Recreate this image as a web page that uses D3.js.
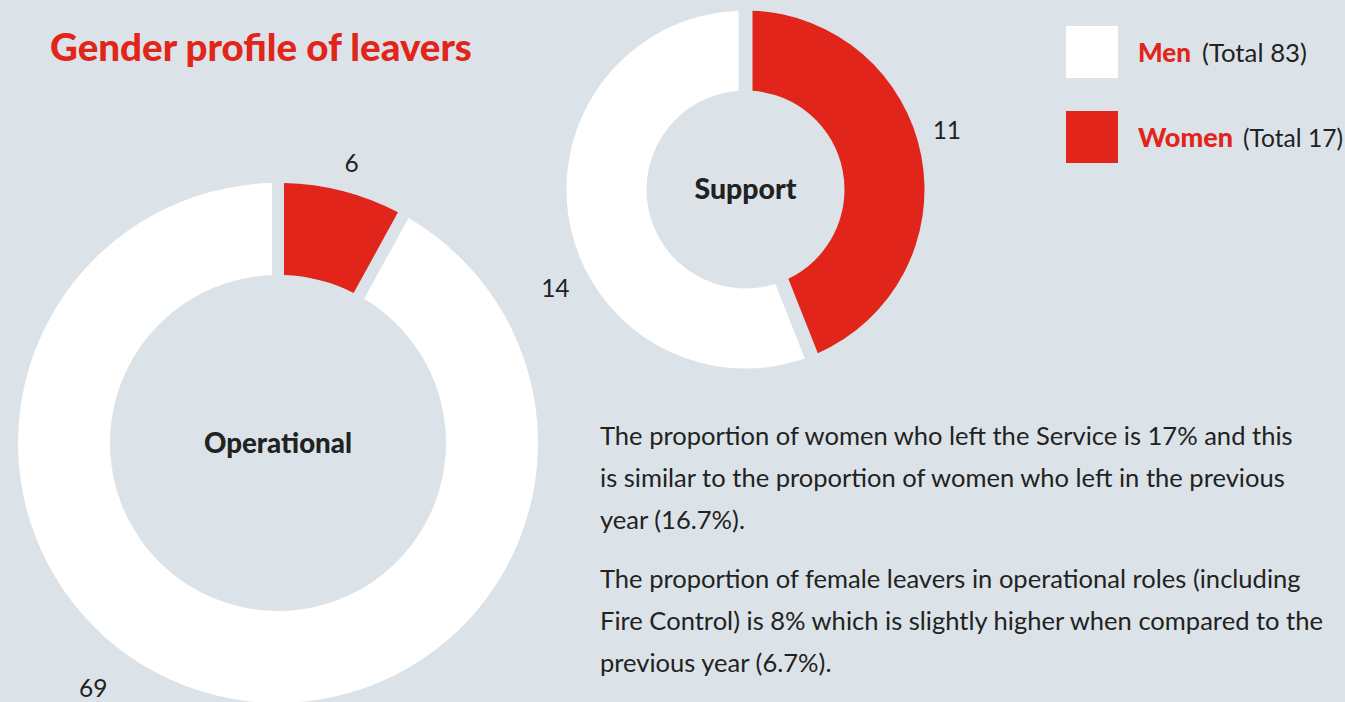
<!DOCTYPE html>
<html><head><meta charset="utf-8">
<script src="https://cdn.jsdelivr.net/npm/d3@7"></script>
<style>
html,body{margin:0;padding:0;background:#dce3e8;}
svg{display:block;}
text{font-family:Lato,"Open Sans",sans-serif;}
</style></head>
<body>
<svg id="chart" width="1345" height="702"></svg>
<script>
// ---- data ----
const genders = ["Women", "Men"];
const operationalValues = [6, 69];
const supportValues = [11, 14];
const legendLabels = ["Men", "Women"];
const legendTotals = ["(Total 83)", "(Total 17)"];
const title = "Gender profile of leavers";
const paragraphs = [
  ["The proportion of women who left the Service is 17% and this",
   "is similar to the proportion of women who left in the previous",
   "year (16.7%)."],
  ["The proportion of female leavers in operational roles (including",
   "Fire Control) is 8% which is slightly higher when compared to the",
   "previous year (6.7%)."]
];

// ---- style ----
const RED = "#e1251b", WHITE = "#ffffff", BG = "#dce3e8", DARK = "#222222";
const color = d3.scaleOrdinal().domain(genders).range([RED, WHITE]);

const svg = d3.select("#chart");
svg.append("rect").attr("width",1345).attr("height",702).attr("fill",BG);

function fit(sel, target){
  const w = sel.node().getComputedTextLength();
  const fs = parseFloat(sel.attr("font-size"));
  sel.attr("font-size", fs*target/w);
  return fs*target/w;
}

// title
fit(svg.append("text").attr("x",50).attr("y",61).attr("fill",RED)
  .attr("font-weight",900).attr("font-size",30).text(title), 422);

function donut(values, cfg){
  const pie = d3.pie().sort(null).value(d=>d);
  const arcs = pie(values);
  const arc = d3.arc().innerRadius(cfg.ri).outerRadius(cfg.ro)
    .padAngle(cfg.gap/cfg.ro).padRadius(cfg.ro);
  const g = svg.append("g").attr("transform",`translate(${cfg.cx},${cfg.cy})`);
  g.selectAll("path").data(arcs).join("path")
    .attr("d",arc).attr("fill",(d,i)=>color(genders[i]));
  const lbl = g.append("text").attr("text-anchor","middle").attr("y",cfg.labelDy)
    .attr("font-weight",900).attr("font-size",23).attr("fill",DARK).text(cfg.name);
  fit(lbl, cfg.labelW);
  arcs.forEach((d,i)=>{
    const a = cfg.valAngles[i]*Math.PI/180, r = cfg.valR[i];
    g.append("text").attr("text-anchor","middle")
      .attr("x", r*Math.sin(a)).attr("y", -r*Math.cos(a)+9)
      .attr("font-size",24.5).attr("fill",DARK).text(d.data);
  });
}

donut(operationalValues, {cx:278, cy:443, ri:168, ro:260, gap:12, name:"Operational",
  labelDy:10, labelW:148, valAngles:[14.7, 217], valR:[290, 307]});
donut(supportValues, {cx:745.5, cy:189.5, ri:99, ro:179, gap:14, name:"Support",
  labelDy:9, labelW:102, valAngles:[73.5, 242.7], valR:[210, 214]});

// legend
const lg = svg.append("g");
const legendY = [26, 111];
legendLabels.forEach((lab,i)=>{
  lg.append("rect").attr("x",1066).attr("y",legendY[i]).attr("width",52).attr("height",52)
    .attr("fill", i===0?WHITE:RED);
  const t = lg.append("text").attr("x",1138).attr("y",legendY[i]+36)
    .attr("font-size",22).attr("fill",RED).attr("font-weight",900).text(lab);
  fit(t, i===0?53:95);
  const t2 = lg.append("text").attr("x", i===0?1202:1243).attr("y",legendY[i]+36)
    .attr("font-size",22).attr("fill",DARK).text(legendTotals[i]);
  fit(t2, i===0?105:100);
});

// paragraphs
const pg = svg.append("g");
const probe = pg.append("text").attr("font-size",22).text(paragraphs[0][0]);
const fs = 22*693/probe.node().getComputedTextLength();
probe.remove();
const baseY = [445, 588];
paragraphs.forEach((p,pi)=>{
  p.forEach((line,li)=>{
    pg.append("text").attr("x",600).attr("y",baseY[pi]+li*42)
      .attr("font-size",fs).attr("fill",DARK).text(line);
  });
});
</script>
</body></html>
